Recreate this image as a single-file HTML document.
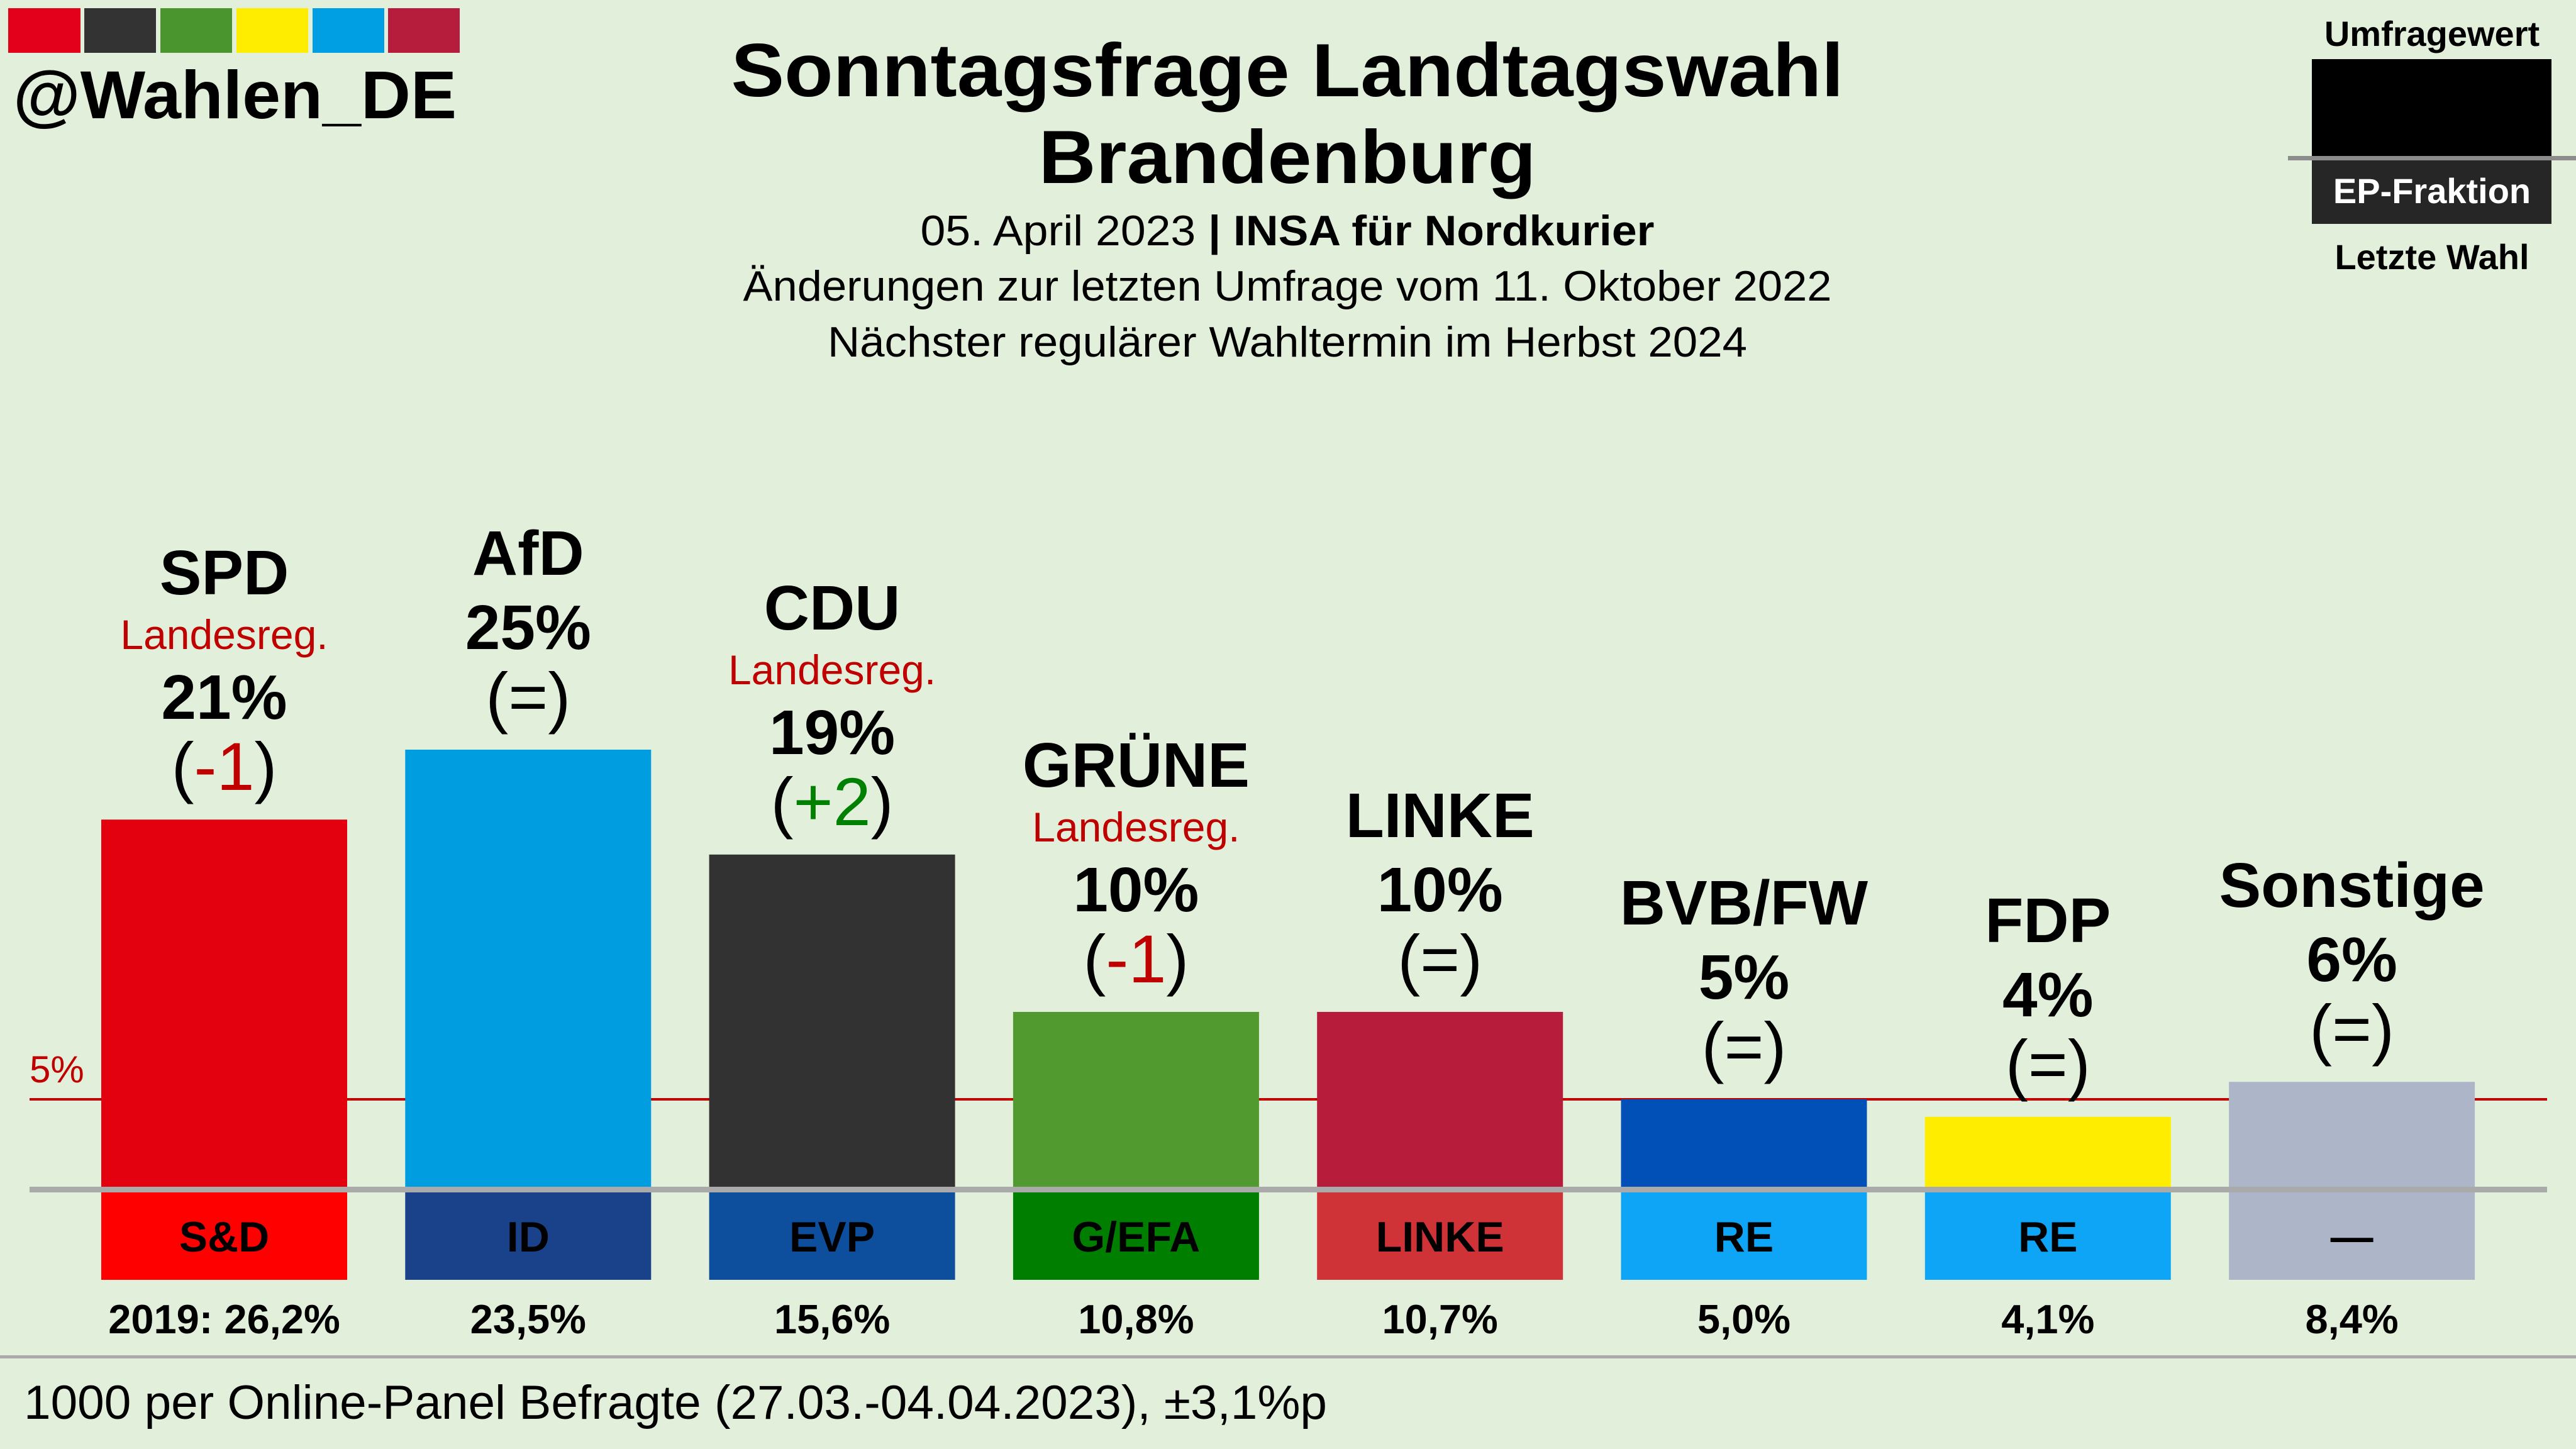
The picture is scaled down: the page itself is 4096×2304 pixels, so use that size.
<!DOCTYPE html>
<html><head><meta charset="utf-8"><style>
html,body{margin:0;padding:0;background:#e2efda;}
svg{display:block;}
text{font-family:"Liberation Sans",sans-serif;}
</style></head><body>
<svg id="chart" width="4096" height="2304" viewBox="0 0 4096 2304" xmlns="http://www.w3.org/2000/svg">
<rect x="0" y="0" width="4096" height="2304" fill="#e2efda"/>
<g>
<rect x="13" y="13" width="115" height="71" fill="#e2001a"/>
<rect x="134" y="13" width="114" height="71" fill="#333333"/>
<rect x="255" y="13" width="114" height="71" fill="#4a952e"/>
<rect x="376" y="13" width="114" height="71" fill="#ffed00"/>
<rect x="497" y="13" width="114" height="71" fill="#009fe3"/>
<rect x="617" y="13" width="114" height="71" fill="#b61d3c"/>
<text x="21" y="188" font-size="108" font-weight="bold" textLength="705" lengthAdjust="spacingAndGlyphs">@Wahlen_DE</text>
</g>
<g text-anchor="middle">
<text x="2047" y="153" font-size="120" font-weight="bold" textLength="1769" lengthAdjust="spacingAndGlyphs">Sonntagsfrage Landtagswahl</text>
<text x="2047" y="291" font-size="120" font-weight="bold" textLength="791" lengthAdjust="spacingAndGlyphs">Brandenburg</text>
<text x="2047" y="390" font-size="68" textLength="1167" lengthAdjust="spacingAndGlyphs">05. April 2023 <tspan font-weight="bold">| INSA für Nordkurier</tspan></text>
<text x="2047" y="478" font-size="68" textLength="1731" lengthAdjust="spacingAndGlyphs">Änderungen zur letzten Umfrage vom 11. Oktober 2022</text>
<text x="2047" y="567" font-size="68" textLength="1462" lengthAdjust="spacingAndGlyphs">Nächster regulärer Wahltermin im Herbst 2024</text>
</g>
<g text-anchor="middle">
<text x="3867" y="73" font-size="56" font-weight="bold">Umfragewert</text>
<rect x="3676" y="94" width="381" height="154" fill="#000"/>
<rect x="3638" y="248" width="458" height="7" fill="#8c8c8c"/>
<rect x="3676" y="255" width="381" height="101" fill="#262626"/>
<text x="3867" y="323" font-size="56" font-weight="bold" fill="#fff">EP-Fraktion</text>
<text x="3867" y="428" font-size="56" font-weight="bold">Letzte Wahl</text>
</g>
<g id="plot"></g>
<rect x="0" y="2155" width="4096" height="5" fill="#aaaaaa"/>
<text x="38" y="2256" font-size="76" textLength="2072" lengthAdjust="spacingAndGlyphs">1000 per Online-Panel Befragte (27.03.-04.04.2023), ±3,1%p</text>
</svg>
<script>
const parties = ["SPD","AfD","CDU","GRÜNE","LINKE","BVB/FW","FDP","Sonstige"];
const values = [21,25,19,10,10,5,4,6];
const changes = ["-1","=","+2","-1","=","=","=","="];
const inGovernment = [true,false,true,true,false,false,false,false];
const epGroups = ["S&D","ID","EVP","G/EFA","LINKE","RE","RE","—"];
const lastElection = ["2019: 26,2%","23,5%","15,6%","10,8%","10,7%","5,0%","4,1%","8,4%"];
const barColors = ["#e3000f","#009ee0","#323232","#519a2f","#b81c3b","#0050b8","#ffed00","#adb6c9"];
const epColors = ["#ff0000","#1a428a","#0e4f9d","#007e00","#cf3338","#0ea5f7","#0ea5f7","#adb6c9"];

const NS="http://www.w3.org/2000/svg";
const plot=document.getElementById('plot');
const BASE=1887, PER=27.8, LEFT=161, PITCH=483.3, BW=391;
function y(v){return BASE - v*PER;}
function x(i){return LEFT + i*PITCH;}
function mk(tag,attrs,parent){const e=document.createElementNS(NS,tag);for(const k in attrs)e.setAttribute(k,attrs[k]);(parent||plot).appendChild(e);return e;}

const thr=mk('rect',{x:47,y:y(5)-2,width:4003,height:4,fill:"#c00000"});


const thrL=mk('text',{x:47,y:y(5)-27,'font-size':60,fill:"#c00000"});
thrL.textContent="5%";



parties.forEach((p,i)=>{
  const slug=p.toLowerCase().replace(/[^a-zäöüß]/g,'');
  const cx=x(i)+BW/2;
  const top=y(values[i]);
  const bar=mk('rect',{x:x(i),y:top,width:BW,height:BASE-top,fill:barColors[i]});
  
  
  const ep=mk('rect',{x:x(i),y:1896,width:BW,height:139,fill:epColors[i]});
  
  
  const ept=mk('text',{x:cx,y:1990,'font-size':68,'font-weight':'bold','text-anchor':'middle'});
  ept.textContent=epGroups[i];
  
  
  const lt=mk('text',{x:cx,y:2120,'font-size':65,'font-weight':'bold','text-anchor':'middle'});
  lt.textContent=lastElection[i];
  
  

  const chY=top-84, pctY=chY-112;
  const ch=mk('text',{x:cx,y:chY+37,'font-size':108,'text-anchor':'middle'});
  
  
  const c=changes[i];
  const col=c.startsWith('-')?'#c00000':(c.startsWith('+')?'#008000':'#000');
  ch.appendChild(document.createTextNode('('));
  const ts=mk('tspan',{fill:col},ch); ts.textContent=c;
  ch.appendChild(document.createTextNode(')'));
  const pt=mk('text',{x:cx,y:pctY+36,'font-size':100,'font-weight':'bold','text-anchor':'middle'});
  pt.textContent=values[i]+'%';
  
  
  let nameY;
  if(inGovernment[i]){
    const regY=pctY-99;
    const rt=mk('text',{x:cx,y:regY+24,'font-size':66,fill:'#c00000','text-anchor':'middle'});
    rt.textContent='Landesreg.';
    
    
    nameY=regY-99;
  } else nameY=pctY-118;
  const nt=mk('text',{x:cx,y:nameY+36,'font-size':100,'font-weight':'bold','text-anchor':'middle'});
  nt.textContent=p;
  
  
});
const bl=mk('rect',{x:47,y:1887,width:4003,height:9,fill:"#aaaaaa"});


</script>
</body></html>
